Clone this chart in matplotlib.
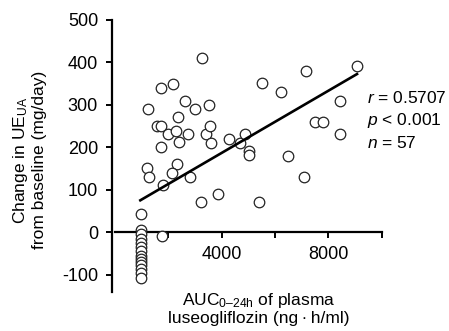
import numpy as np
import matplotlib
matplotlib.use("Agg")
import matplotlib.pyplot as plt

plt.rcParams['font.family'] = ['Liberation Sans', 'DejaVu Sans']
plt.rcParams['mathtext.fontset'] = 'custom'
plt.rcParams['mathtext.rm'] = 'Liberation Sans'
plt.rcParams['mathtext.it'] = 'Liberation Sans:italic'

# AUC (ng*h/ml) and change in UE_UA (mg/day)
auc = [1250, 1714, 2188, 3253, 2627, 3015, 3510, 2365, 1564, 1714,
       2000, 2289, 2720, 2390, 1714, 3410, 3565, 3580, 4278, 4690,
       4878, 5028, 5028, 5500, 9070, 7166, 6229, 8443, 7503, 7790,
       8443, 6477, 7091, 3877, 3220, 5415, 1212, 1287, 2338, 2126,
       1812, 2800, 990, 1752,
       980, 980, 980, 980, 980, 980, 980, 980, 980, 980, 980, 980, 980]
change = [289, 339, 348, 409, 309, 289, 299, 270, 249, 249,
          230, 239, 230, 211, 200, 230, 249, 210, 220, 209,
          230, 192, 181, 350, 390, 379, 330, 309, 260, 260,
          230, 180, 130, 91, 70, 70, 150, 130, 161, 140,
          112, 130, 42, -8,
          5, -5, -15, -25, -35, -45, -55, -63, -70, -78, -86, -96, -108]

# regression line ends
line_x = [950, 9070]
line_y = [75, 372]

stats = ["$r$ = 0.5707", "$p$ < 0.001", "$n$ = 57"]

fig = plt.figure(figsize=(4.49, 3.31), dpi=100)
ax = fig.add_axes([0.2494, 0.1187, 0.601, 0.822])

ax.plot(auc, change, 'o', ms=7.6, mfc='white', mec='#222222', mew=0.9,
        ls='none', zorder=3)
ax.plot(line_x, line_y, color='black', lw=1.9, zorder=4)

ax.set_xlim(-112, 10000)
ax.set_ylim(-140, 500)

for s in ['top', 'right']:
    ax.spines[s].set_visible(False)
ax.spines['bottom'].set_position(('data', 0))
ax.spines['bottom'].set_bounds(0, 10000)
ax.spines['left'].set_linewidth(1.6)
ax.spines['bottom'].set_linewidth(1.6)

ax.set_xticks([2000, 4000, 6000, 8000, 10000])
ax.set_xticklabels(['', '4000', '', '8000', ''])
ax.set_yticks([-100, 0, 100, 200, 300, 400, 500])
ax.set_yticklabels(['-100', '0', '100', '200', '300', '400', '500'])
ax.tick_params(axis='both', direction='out', length=4, width=1.4,
               labelsize=13, color='black')
ax.tick_params(axis='y', pad=6)
ax.tick_params(axis='x', pad=6)

fig.text(29 / 449, 1 - 160 / 331,
         "Change in UE$_{\\mathrm{UA}}$\nfrom baseline (mg/day)",
         rotation=90, ha='center', va='center', fontsize=12.5,
         linespacing=1.1)
fig.text(259 / 449, 1 - 301 / 331, "AUC$_{\\mathrm{0\u201324h}}$ of plasma",
         ha='center', va='center', fontsize=12.5)
fig.text(259 / 449, 1 - 319 / 331, "luseogliflozin (ng\u2009\u00b7\u2009h/ml)",
         ha='center', va='center', fontsize=12.5)

for i, s in enumerate(stats):
    fig.text(367 / 449, 1 - (98 + 22.3 * i) / 331, s, ha='left', va='center',
             fontsize=12.5)

fig.savefig("out.png", dpi=100)
